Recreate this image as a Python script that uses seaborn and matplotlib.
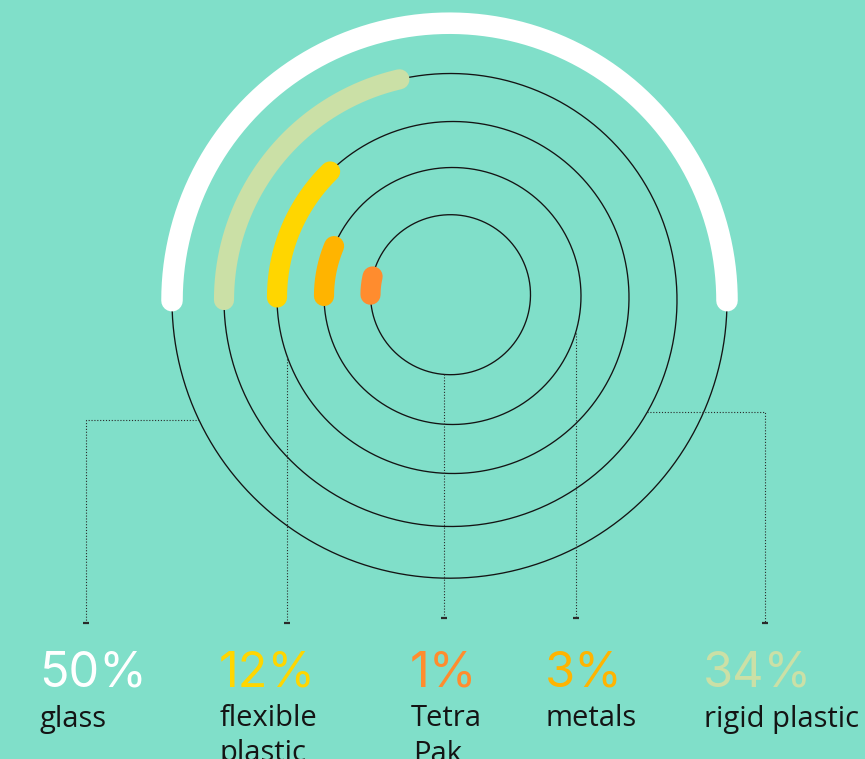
import numpy as np
import pandas as pd
import matplotlib
matplotlib.use("Agg")
import matplotlib.pyplot as plt
import seaborn as sns

# Packaging waste composition
categories = ["glass", "flexible\nplastic", "Tetra\nPak", "metals", "rigid plastic"]
shares = [50, 12, 1, 3, 34]
share_labels = ["50%", "12%", "1%", "3%", "34%"]

# Colours per category
colors = ["#ffffff", "#ffd600", "#ff8c2e", "#ffb400", "#cbe0a6"]
BG = "#80dfc9"
INK = "#141414"

# Ring geometry (canvas pixels): centre x, centre y and radius per category
ring_cx = [449.5, 453.0, 450.5, 452.5, 450.5]
ring_cy = [300.7, 297.5, 294.7, 296.0, 300.0]
ring_r = [277.5, 176.0, 80.0, 128.5, 226.5]

# Sweep scale: the largest share fills the half ring, others follow a sqrt scale
DEG_PER_SQRT_PCT = 13.2


def sweep_deg(v):
    return 180.0 if v == max(shares) else DEG_PER_SQRT_PCT * np.sqrt(v)


sns.set_theme(style="white")
plt.rcParams["font.family"] = ["Open Sans", "DejaVu Sans"]

W, H = 865, 759
fig = plt.figure(figsize=(W / 100, H / 100), dpi=100, facecolor=BG)
ax = fig.add_axes([0, 0, 1, 1])
ax.set_facecolor(BG)
ax.set_xlim(0, W)
ax.set_ylim(H, 0)
ax.axis("off")


def arc_frame(cx, cy, r, a0, a1, n=400):
    t = np.radians(np.linspace(a0, a1, n))
    return pd.DataFrame({"x": cx + r * np.cos(t), "y": cy - r * np.sin(t)})


def draw(df, **kw):
    sns.lineplot(data=df, x="x", y="y", sort=False, estimator=None, ax=ax,
                 legend=False, **kw)


# Thin rings: full circles for the inner rings (seam hidden under the value
# arc's start), lower half for the outer one
for i, v in enumerate(shares):
    cx, cy, r = ring_cx[i], ring_cy[i], ring_r[i]
    if v == max(shares):
        df = arc_frame(cx, cy, r, 180, 360)
    else:
        df = arc_frame(cx, cy, r, 180, 540, 700)
    draw(df, color=INK, linewidth=0.95, solid_joinstyle="round")

# Thick value arcs, running clockwise from the left side
for i, v in enumerate(shares):
    cx, cy, r = ring_cx[i], ring_cy[i], ring_r[i]
    lw = 15.5 if v == max(shares) else 14.5
    df = arc_frame(cx, cy, r, 180, 180 - sweep_deg(v))
    draw(df, color=colors[i], linewidth=lw, solid_capstyle="round")

# Dotted leader lines from the rings down to the labels
LEAD = dict(color="#2a2a2a", linewidth=0.8, linestyle=(0, (1, 1.6)))
lead_bottom = [622.7, 623.0, 617.7, 617.7, 622.7]
lead_x = [85.7, 287.0, 443.5, 575.5, 764.7]
lead_h_y = {0: 420.3, 4: 412.3}  # leaders that leave their ring sideways

for i in range(len(shares)):
    cx, cy, r = ring_cx[i], ring_cy[i], ring_r[i]
    x = lead_x[i]
    if i in lead_h_y:
        y = lead_h_y[i]
        side = -1 if x < cx else 1
        x0 = cx + side * np.sqrt(r ** 2 - (y - cy) ** 2)
        pts = pd.DataFrame({"x": [x0, x, x], "y": [y, y, lead_bottom[i]]})
    else:
        y0 = cy + np.sqrt(r ** 2 - (x - cx) ** 2)
        pts = pd.DataFrame({"x": [x, x], "y": [y0, lead_bottom[i]]})
    draw(pts, **LEAD)
    ax.plot([x], [lead_bottom[i]], marker="_", markersize=4,
            markeredgewidth=1.6, color="#2a2a2a")

# Labels under each leader: share on top, category name below (one text per line)
text_x = [39, 219, 410, 545, 703]
LINE_STEP = 35
for i in range(len(shares)):
    ax.text(text_x[i], 686.5, share_labels[i], color=colors[i], fontsize=35,
            family=["Inter", "Open Sans"], ha="left", va="baseline")
    for k, line in enumerate(categories[i].split("\n")):
        ax.text(text_x[i] + 1 + (2 if k else 0) * (i == 2), 726.5 + k * LINE_STEP,
                line, color=INK, fontsize=21, ha="left", va="baseline")

fig.savefig("out.png", dpi=100, facecolor=BG)
